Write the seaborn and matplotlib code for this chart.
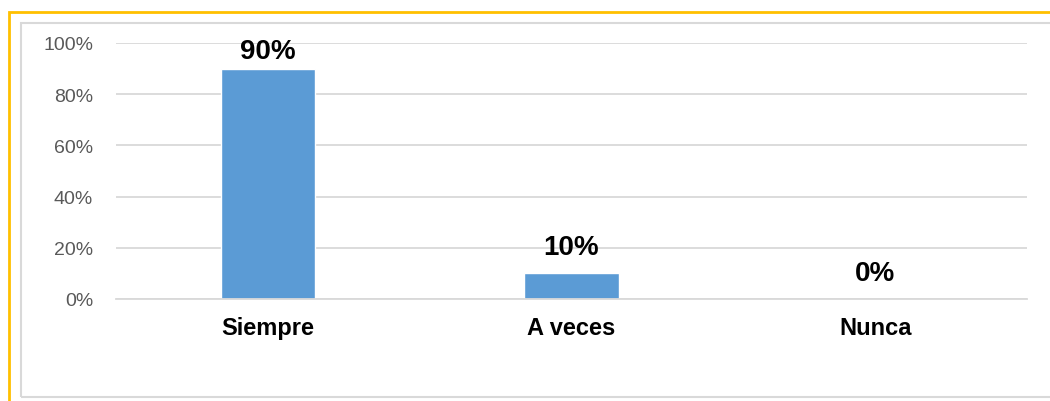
import matplotlib
matplotlib.use("Agg")
import matplotlib.pyplot as plt
import seaborn as sns
import pandas as pd
from matplotlib.patches import Rectangle
from matplotlib.ticker import PercentFormatter

# Datos
categorias = ["Siempre", "A veces", "Nunca"]
porcentajes = [0.90, 0.10, 0.00]
etiquetas = ["90%", "10%", "0%"]
ticks_y = [0, 0.2, 0.4, 0.6, 0.8, 1.0]

df = pd.DataFrame({"Respuesta": categorias, "Porcentaje": porcentajes})

sns.set_style("white")
plt.rcParams["font.family"] = ["Liberation Sans", "DejaVu Sans"]

fig = plt.figure(figsize=(10.5, 4.02), dpi=100)
W, H = 1050, 402
ax = fig.add_axes([116 / W, 1 - 300 / H, (1027 - 116) / W, (300 - 44) / H])

sns.barplot(data=df, x="Respuesta", y="Porcentaje", color="#5B9BD5",
            width=0.31, ax=ax, saturation=1)

ax.set_ylim(0, 1)
ax.set_xlim(-0.5, 2.5)
ax.set_yticks(ticks_y)
ax.yaxis.set_major_formatter(PercentFormatter(1.0, decimals=0))
ax.grid(axis="y", color="#d9d9d9", linewidth=1.3)
ax.set_axisbelow(True)
for s in ["top", "right", "left"]:
    ax.spines[s].set_visible(False)
ax.spines["bottom"].set_color("#d9d9d9")
ax.spines["bottom"].set_linewidth(1.3)
ax.tick_params(axis="y", length=0, pad=16.5, labelsize=14, labelcolor="#595959")
ax.tick_params(axis="x", length=0, pad=12, labelsize=17, labelcolor="black")
for lbl in ax.get_xticklabels():
    lbl.set_fontweight("bold")
ax.set_xlabel("")
ax.set_ylabel("")

for i, (v, t) in enumerate(zip(porcentajes, etiquetas)):
    # la etiqueta de la barra más alta queda más pegada (tope del área)
    off = 7.5 if v > 0.85 else 14
    ax.annotate(t, (i, v), xytext=(0, off), textcoords="offset points",
                ha="center", va="baseline", fontsize=20, fontweight="bold",
                color="black", annotation_clip=False)

# marcos exteriores
fig.patches.append(Rectangle((9 / W, -0.1), 1.2, 1 - 13 / H + 0.1,
                             transform=fig.transFigure, fill=False,
                             edgecolor="#FFC000", linewidth=2))
fig.patches.append(Rectangle((21 / W, 1 - 398 / H), 1.2, (398 - 24) / H,
                             transform=fig.transFigure, fill=False,
                             edgecolor="#d9d9d9", linewidth=1.5))

fig.savefig("out.png", dpi=100)
